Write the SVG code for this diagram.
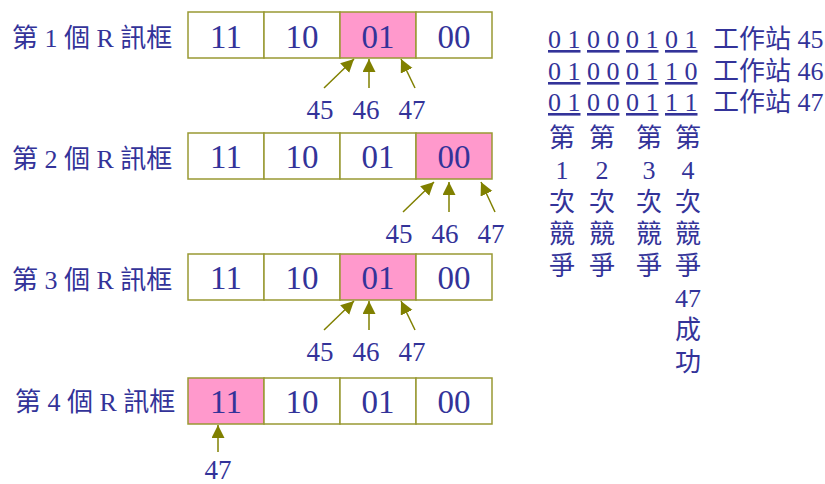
<svg xmlns="http://www.w3.org/2000/svg" width="825" height="484" viewBox="0 0 825 484">
<defs>
<style>
text{font-family:"Liberation Serif","Noto Sans CJK TC",serif;fill:#333399;}
.lbl{font-size:26px;}
.cell{font-size:33px;text-anchor:middle;}
.num{font-size:27px;text-anchor:middle;}
.bits{font-size:26px;text-decoration:underline;}
.col{font-size:26px;text-anchor:middle;}
.box{fill:#ffffff;stroke:#999933;stroke-width:1.5;}
.hit{fill:#ff99cc;stroke:#999933;stroke-width:1.5;}
.arr{stroke:#808000;stroke-width:1.5;fill:none;marker-end:url(#ah);}
</style>
<marker id="ah" markerUnits="userSpaceOnUse" markerWidth="14" markerHeight="14" refX="13" refY="6.5" orient="auto" viewBox="0 0 14 14">
<path d="M0,0 L13,6.5 L0,13 Z" fill="#808000"/>
</marker>
</defs>
<rect width="825" height="484" fill="#ffffff"/>

<g id="frame1">
<text class="lbl" x="12" y="47">第 1 個 R 訊框</text>
<rect class="box" x="188" y="12" width="76" height="46"/>
<rect class="box" x="264" y="12" width="76" height="46"/>
<rect class="hit" x="340" y="12" width="76" height="46"/>
<rect class="box" x="416" y="12" width="76" height="46"/>
<text class="cell" x="226" y="48">11</text>
<text class="cell" x="302" y="48">10</text>
<text class="cell" x="378" y="48">01</text>
<text class="cell" x="454" y="48">00</text>
<text class="num" x="320" y="119">45</text>
<text class="num" x="366" y="119">46</text>
<text class="num" x="412" y="119">47</text>
</g>

<g id="frame2">
<text class="lbl" x="12" y="168">第 2 個 R 訊框</text>
<rect class="box" x="188" y="133" width="76" height="46"/>
<rect class="box" x="264" y="133" width="76" height="46"/>
<rect class="box" x="340" y="133" width="76" height="46"/>
<rect class="hit" x="416" y="133" width="76" height="46"/>
<text class="cell" x="226" y="168">11</text>
<text class="cell" x="302" y="168">10</text>
<text class="cell" x="378" y="168">01</text>
<text class="cell" x="454" y="168">00</text>
<text class="num" x="399" y="243">45</text>
<text class="num" x="445" y="243">46</text>
<text class="num" x="491" y="243">47</text>
</g>

<g id="frame3">
<text class="lbl" x="12" y="289">第 3 個 R 訊框</text>
<rect class="box" x="188" y="254" width="76" height="46"/>
<rect class="box" x="264" y="254" width="76" height="46"/>
<rect class="hit" x="340" y="254" width="76" height="46"/>
<rect class="box" x="416" y="254" width="76" height="46"/>
<text class="cell" x="226" y="289">11</text>
<text class="cell" x="302" y="289">10</text>
<text class="cell" x="378" y="289">01</text>
<text class="cell" x="454" y="289">00</text>
<text class="num" x="320" y="361">45</text>
<text class="num" x="366" y="361">46</text>
<text class="num" x="412" y="361">47</text>
</g>

<g id="frame4">
<text class="lbl" x="15" y="411">第 4 個 R 訊框</text>
<rect class="hit" x="188" y="378" width="76" height="46"/>
<rect class="box" x="264" y="378" width="76" height="46"/>
<rect class="box" x="340" y="378" width="76" height="46"/>
<rect class="box" x="416" y="378" width="76" height="46"/>
<text class="cell" x="226" y="413">11</text>
<text class="cell" x="302" y="413">10</text>
<text class="cell" x="378" y="413">01</text>
<text class="cell" x="454" y="413">00</text>
<text class="num" x="218" y="479">47</text>
</g>

<g id="connectors">
<line class="arr" x1="324" y1="88" x2="354" y2="59"/>
<line class="arr" x1="369" y1="88" x2="369" y2="59"/>
<line class="arr" x1="415" y1="88" x2="401" y2="59"/>
<line class="arr" x1="403" y1="212" x2="434" y2="182"/>
<line class="arr" x1="449" y1="212" x2="449" y2="182"/>
<line class="arr" x1="495" y1="212" x2="481" y2="182"/>
<line class="arr" x1="324" y1="330" x2="354" y2="301"/>
<line class="arr" x1="369" y1="330" x2="369" y2="301"/>
<line class="arr" x1="415" y1="330" x2="401" y2="301"/>
<line class="arr" x1="218" y1="452" x2="218" y2="425"/>
</g>

<g id="stations">
<text class="bits" x="548" y="48">0 1</text>
<text class="bits" x="587" y="48">0 0</text>
<text class="bits" x="626" y="48">0 1</text>
<text class="bits" x="665" y="48">0 1</text>
<text class="lbl" x="713" y="48">工作站 45</text>
<text class="bits" x="548" y="80">0 1</text>
<text class="bits" x="587" y="80">0 0</text>
<text class="bits" x="626" y="80">0 1</text>
<text class="bits" x="665" y="80">1 0</text>
<text class="lbl" x="713" y="80">工作站 46</text>
<text class="bits" x="548" y="111">0 1</text>
<text class="bits" x="587" y="111">0 0</text>
<text class="bits" x="626" y="111">0 1</text>
<text class="bits" x="665" y="111">1 1</text>
<text class="lbl" x="713" y="111">工作站 47</text>
</g>

<g id="rounds">
<text class="col" x="562" y="147">第</text>
<text class="col" x="562" y="179">1</text>
<text class="col" x="562" y="211">次</text>
<text class="col" x="562" y="243">競</text>
<text class="col" x="562" y="275">爭</text>
<text class="col" x="602" y="147">第</text>
<text class="col" x="602" y="179">2</text>
<text class="col" x="602" y="211">次</text>
<text class="col" x="602" y="243">競</text>
<text class="col" x="602" y="275">爭</text>
<text class="col" x="649" y="147">第</text>
<text class="col" x="649" y="179">3</text>
<text class="col" x="649" y="211">次</text>
<text class="col" x="649" y="243">競</text>
<text class="col" x="649" y="275">爭</text>
<text class="col" x="688" y="147">第</text>
<text class="col" x="688" y="179">4</text>
<text class="col" x="688" y="211">次</text>
<text class="col" x="688" y="243">競</text>
<text class="col" x="688" y="275">爭</text>
<text class="col" x="688" y="307">47</text>
<text class="col" x="688" y="339">成</text>
<text class="col" x="688" y="371">功</text>
</g>
</svg>
